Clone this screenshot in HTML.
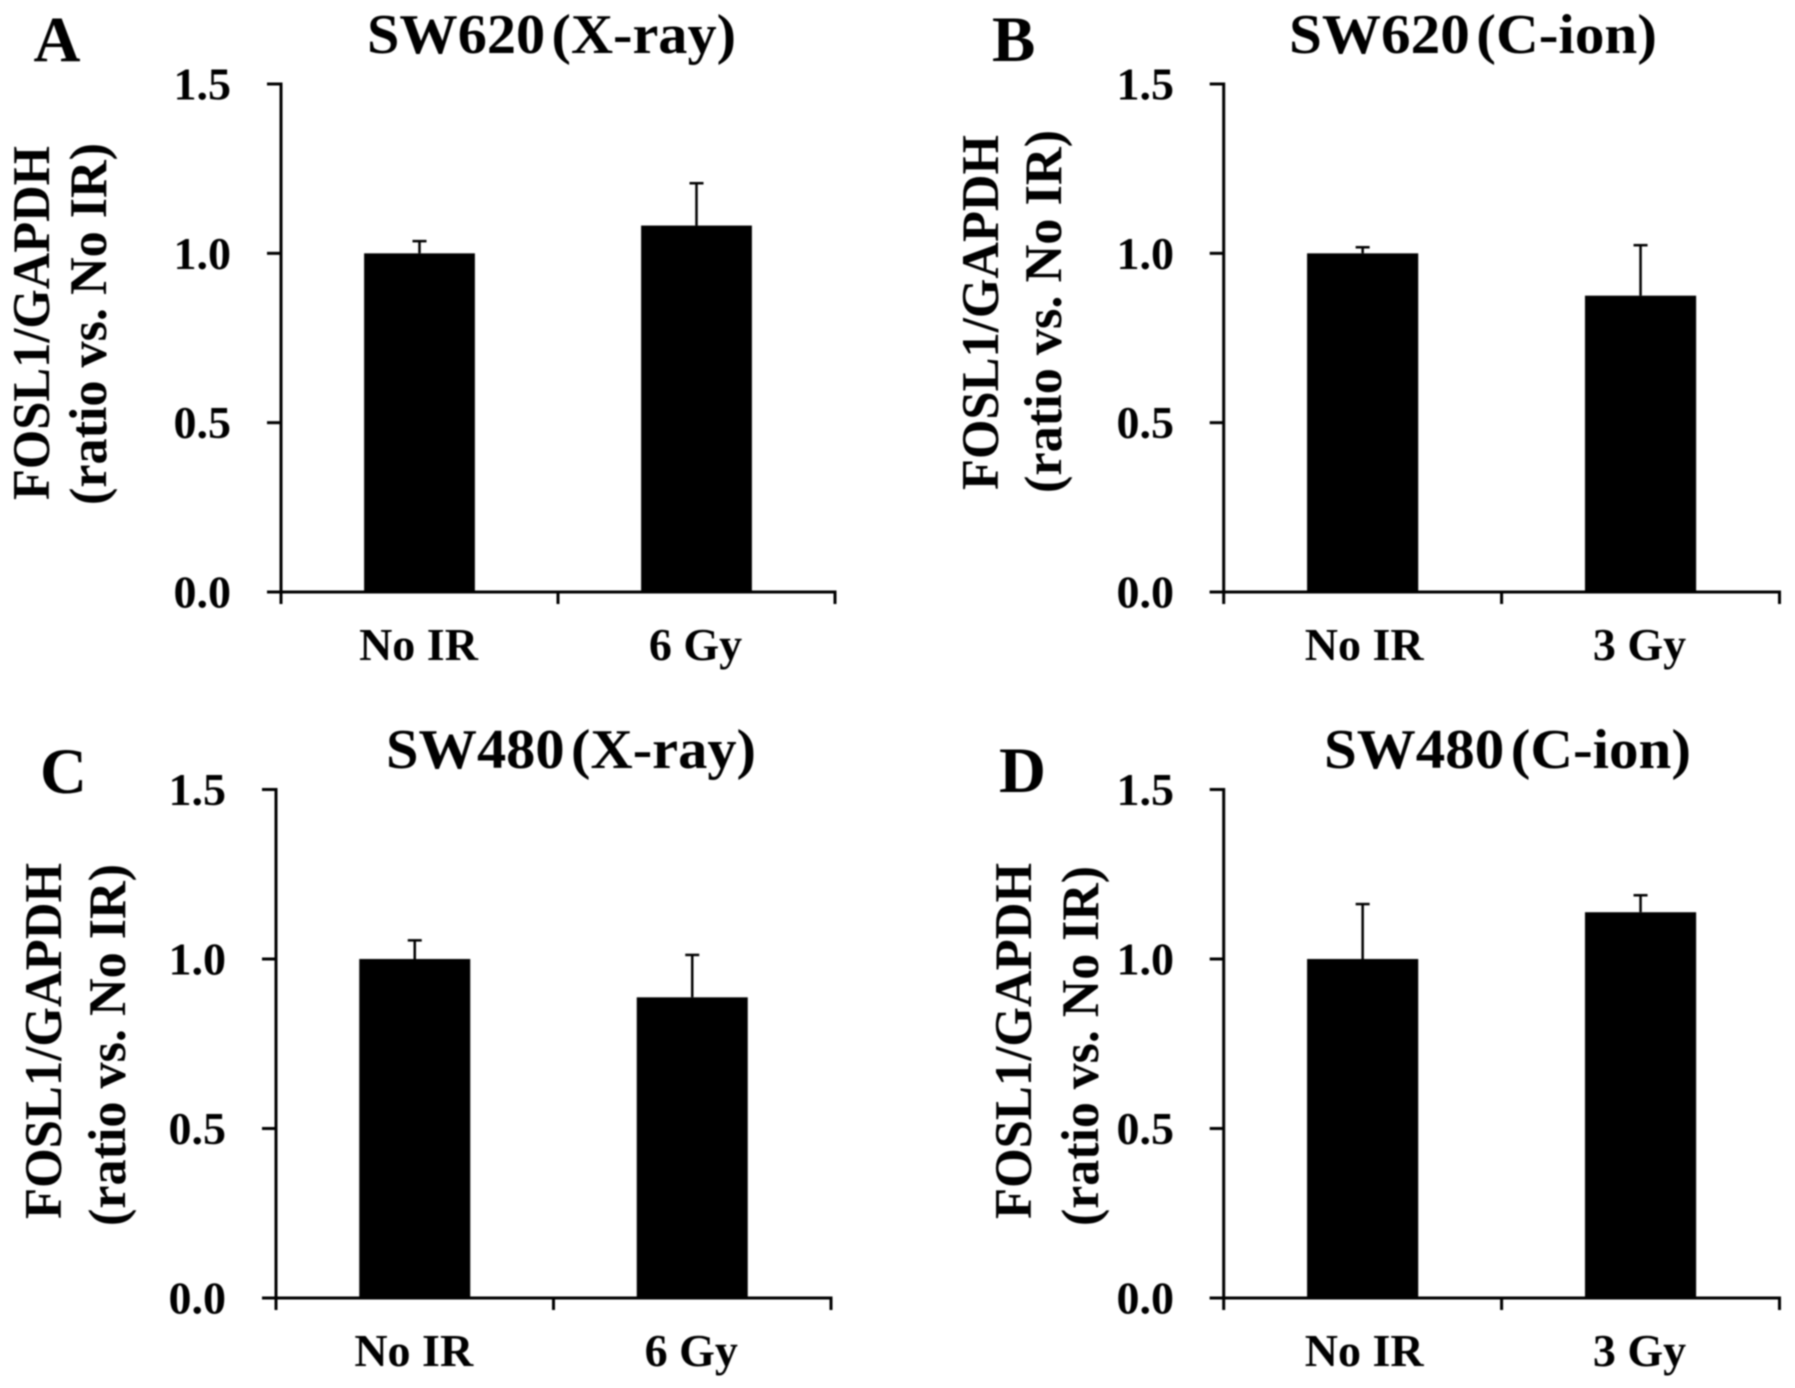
<!DOCTYPE html>
<html lang="en">
<head>
<meta charset="utf-8">
<title>FOSL1/GAPDH expression after irradiation</title>
<style>
  html, body { margin: 0; padding: 0; background: #fff; }
  svg { display: block; filter: blur(0.7px); }
  text { font-family: "Liberation Serif", serif; font-weight: bold; fill: #000; }
  .panel-letter { font-size: 65px; }
  .panel-title { font-size: 56px; word-spacing: -0.14em; }
  .y-title { font-size: 53px; }
  .y-tick-label { font-size: 46px; text-anchor: end; }
  .x-tick-label { font-size: 46px; text-anchor: middle; }
</style>
</head>
<body>
<svg id="figure" xmlns="http://www.w3.org/2000/svg" width="1795" height="1388" viewBox="0 0 1795 1388">
  <rect width="1795" height="1388" fill="#fff"/>

  <g id="panel-a">
    <text class="panel-letter" x="33.5" y="61">A</text>
    <text class="panel-title" x="367" y="53" textLength="369" lengthAdjust="spacingAndGlyphs">SW620 (X-ray)</text>
    <text class="y-title" transform="translate(49,500) rotate(-90)" textLength="354" lengthAdjust="spacingAndGlyphs">FOSL1/GAPDH</text>
    <text class="y-title" transform="translate(106,505) rotate(-90)" textLength="362" lengthAdjust="spacingAndGlyphs">(ratio vs. No IR)</text>
  </g>

  <g id="panel-b">
    <text class="panel-letter" x="992" y="61">B</text>
    <text class="panel-title" x="1289" y="53" textLength="368" lengthAdjust="spacingAndGlyphs">SW620 (C-ion)</text>
    <text class="y-title" transform="translate(998,490) rotate(-90)" textLength="355" lengthAdjust="spacingAndGlyphs">FOSL1/GAPDH</text>
    <text class="y-title" transform="translate(1061,493) rotate(-90)" textLength="363" lengthAdjust="spacingAndGlyphs">(ratio vs. No IR)</text>
  </g>

  <g id="panel-c">
    <text class="panel-letter" x="40" y="793">C</text>
    <text class="panel-title" x="386" y="768" textLength="370" lengthAdjust="spacingAndGlyphs">SW480 (X-ray)</text>
    <text class="y-title" transform="translate(61,1219) rotate(-90)" textLength="356" lengthAdjust="spacingAndGlyphs">FOSL1/GAPDH</text>
    <text class="y-title" transform="translate(125,1226) rotate(-90)" textLength="362" lengthAdjust="spacingAndGlyphs">(ratio vs. No IR)</text>
  </g>

  <g id="panel-d">
    <text class="panel-letter" x="999" y="792">D</text>
    <text class="panel-title" x="1324" y="768" textLength="367" lengthAdjust="spacingAndGlyphs">SW480 (C-ion)</text>
    <text class="y-title" transform="translate(1031,1219) rotate(-90)" textLength="356" lengthAdjust="spacingAndGlyphs">FOSL1/GAPDH</text>
    <text class="y-title" transform="translate(1098,1226) rotate(-90)" textLength="360" lengthAdjust="spacingAndGlyphs">(ratio vs. No IR)</text>
  </g>
</svg>

<script>
// ---- chart data ----
const yTickValues = [0, 0.5, 1, 1.5];
const yTickLabels = ['0.0', '0.5', '1.0', '1.5'];
const yMax = 1.5;

const categoriesA = ['No IR', '6 Gy'];
const valuesA = [1.0, 1.082];
const errorsA = [0.036, 0.125];

const categoriesB = ['No IR', '3 Gy'];
const valuesB = [1.0, 0.875];
const errorsB = [0.018, 0.149];

const categoriesC = ['No IR', '6 Gy'];
const valuesC = [1.0, 0.887];
const errorsC = [0.055, 0.125];

const categoriesD = ['No IR', '3 Gy'];
const valuesD = [1.0, 1.138];
const errorsD = [0.162, 0.05];

// ---- layout ----
const SVG_NS = 'http://www.w3.org/2000/svg';
const panels = [
  { id: 'a', cats: categoriesA, vals: valuesA, errs: errorsA, left: 281, right: 835, top: 84, bottom: 592, tickRight: 231, labelBase: 660, firstLabelShift: -1 },
  { id: 'b', cats: categoriesB, vals: valuesB, errs: errorsB, left: 1223.7, right: 1779.5, top: 84, bottom: 592, tickRight: 1174, labelBase: 660, firstLabelShift: 1.5 },
  { id: 'c', cats: categoriesC, vals: valuesC, errs: errorsC, left: 276, right: 831, top: 789.5, bottom: 1298, tickRight: 226, labelBase: 1366, firstLabelShift: -1 },
  { id: 'd', cats: categoriesD, vals: valuesD, errs: errorsD, left: 1223.7, right: 1779.5, top: 789.5, bottom: 1298, tickRight: 1174, labelBase: 1366, firstLabelShift: 1.5 }
];

function line(parent, x1, y1, x2, y2, width) {
  const el = document.createElementNS(SVG_NS, 'line');
  el.setAttribute('x1', x1);
  el.setAttribute('y1', y1);
  el.setAttribute('x2', x2);
  el.setAttribute('y2', y2);
  el.setAttribute('stroke', '#000');
  el.setAttribute('stroke-width', width);
  parent.appendChild(el);
  return el;
}

function drawPanel(p) {
  const group = document.getElementById('panel-' + p.id);
  const bandWidth = (p.right - p.left) / p.cats.length;
  const xScale = function (i) { return p.left + bandWidth * (i + 0.5); };
  const yScale = function (v) { return p.bottom - (v / yMax) * (p.bottom - p.top); };
  const barWidth = bandWidth * 0.4;
  const prefix = 'panel-' + p.id + '-';

  // bars and error bars
  p.vals.forEach(function (v, i) {
    const cx = xScale(i);
    const errTop = yScale(v + p.errs[i]);

    const stem = line(group, cx, yScale(v), cx, errTop, 2.5);
    
    

    const cap = line(group, cx - 7, errTop, cx + 7, errTop, 2.5);
    
    

    const bar = document.createElementNS(SVG_NS, 'rect');
    bar.setAttribute('x', cx - barWidth / 2);
    bar.setAttribute('y', yScale(v));
    bar.setAttribute('width', barWidth);
    bar.setAttribute('height', p.bottom - yScale(v));
    bar.setAttribute('fill', '#000');
    
    
    group.appendChild(bar);
  });

  // axes
  const yAxis = line(group, p.left, p.top - 1.5, p.left, p.bottom + 12, 3);
  
  

  const xAxis = line(group, p.left - 14, p.bottom, p.right + 1.5, p.bottom, 3);
  
  

  // y ticks and labels
  yTickValues.forEach(function (v, i) {
    const y = yScale(v);

    const tick = line(group, p.left - 14, y, p.left, y, 3);
    
    

    const label = document.createElementNS(SVG_NS, 'text');
    label.setAttribute('class', 'y-tick-label');
    label.setAttribute('x', p.tickRight);
    label.setAttribute('y', y + 15.5);
    label.textContent = yTickLabels[i];
    
    
    group.appendChild(label);
  });

  // x ticks (band edges)
  for (let i = 1; i <= p.cats.length; i++) {
    const tx = p.left + bandWidth * i;
    const tick = line(group, tx, p.bottom, tx, p.bottom + 12, 3);
    
    
  }

  // x labels
  p.cats.forEach(function (c, i) {
    const label = document.createElementNS(SVG_NS, 'text');
    label.setAttribute('class', 'x-tick-label');
    label.setAttribute('x', xScale(i) + (i === 0 ? p.firstLabelShift : -1));
    label.setAttribute('y', p.labelBase);
    label.textContent = c;
    
    
    group.appendChild(label);
  });
}

panels.forEach(drawPanel);
</script>
</body>
</html>
